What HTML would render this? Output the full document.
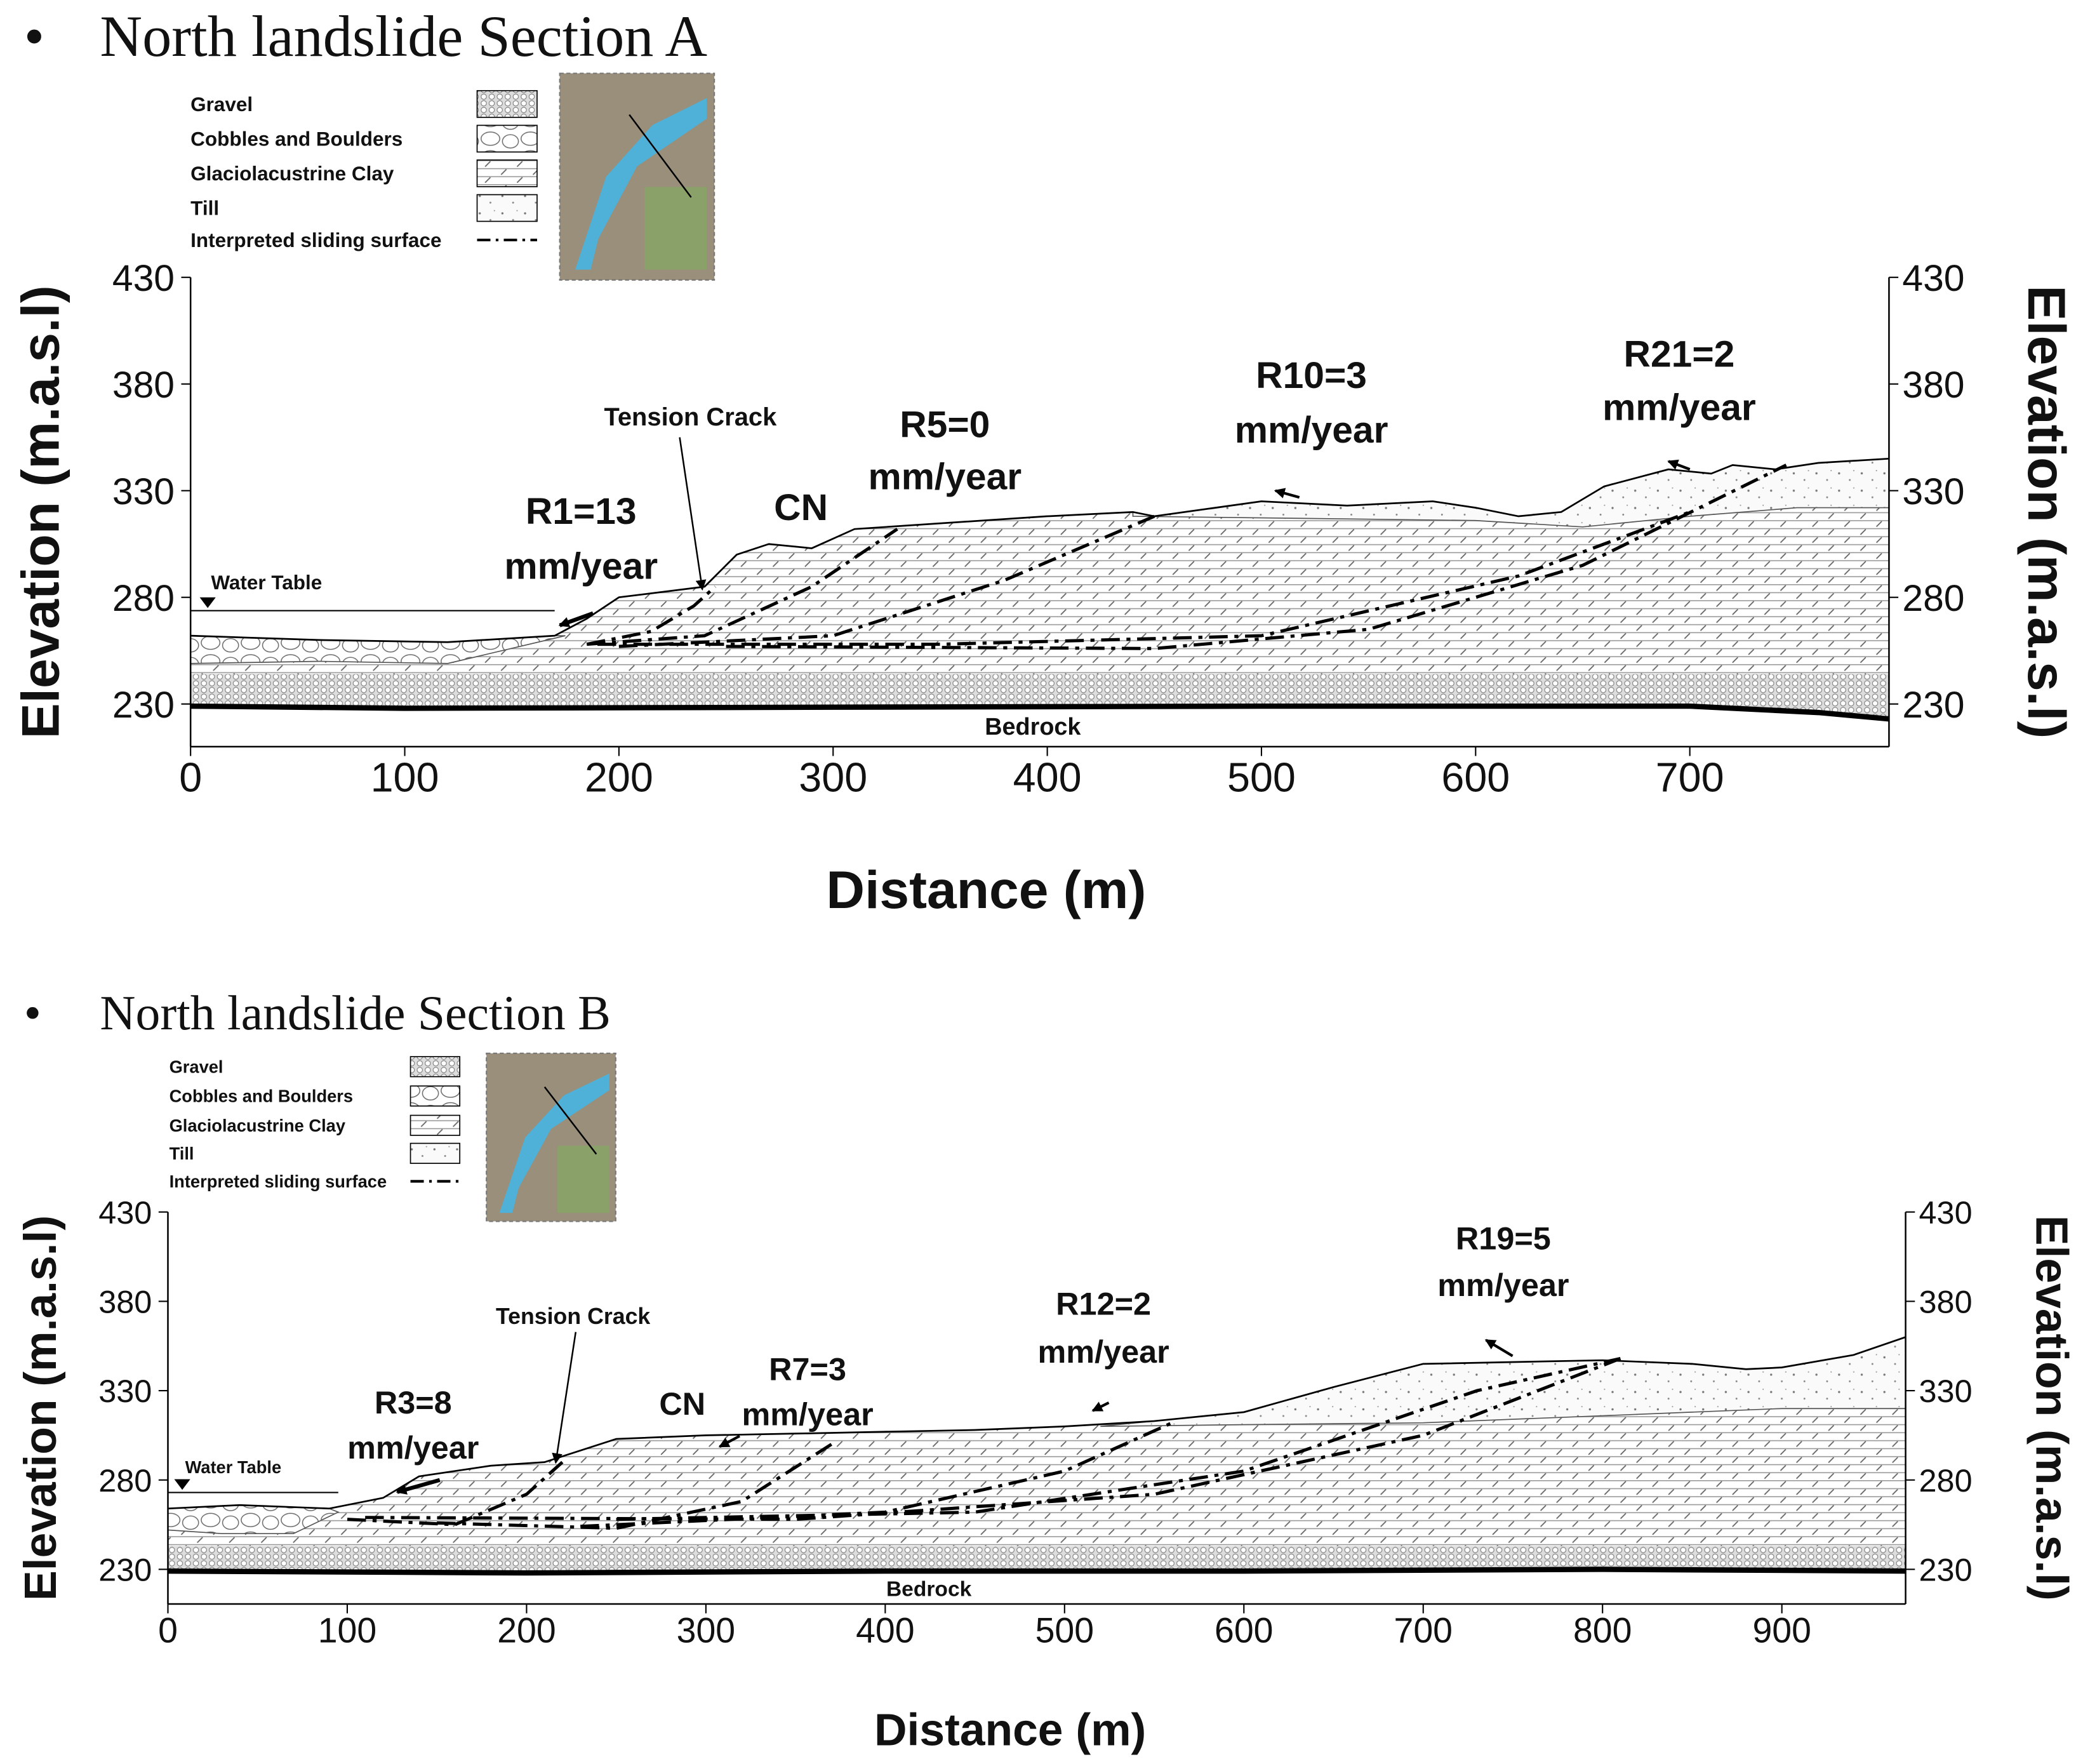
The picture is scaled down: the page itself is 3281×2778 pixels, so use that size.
<!DOCTYPE html>
<html><head><meta charset="utf-8"><style>
html,body{margin:0;padding:0;background:#fff;}
svg{display:block;}
text{font-family:"Liberation Sans",sans-serif;fill:#111;}
.ser{font-family:"Liberation Serif",serif;}
.b{font-weight:bold;}
</style></head><body>
<svg id="chart" width="3281" height="2778" viewBox="0 0 1563 1323" preserveAspectRatio="none" xmlns="http://www.w3.org/2000/svg">
<defs>
<marker id="ah" markerWidth="8" markerHeight="8" refX="7" refY="4" orient="auto" markerUnits="userSpaceOnUse"><path d="M0,0 L8,4 L0,8 z" fill="#000"/></marker>
<pattern id="clay" patternUnits="userSpaceOnUse" width="24" height="12">
<rect width="24" height="12" fill="#fff"/>
<line x1="0" y1="0.5" x2="24" y2="0.5" stroke="#999" stroke-width="0.8"/>
<line x1="0" y1="6.5" x2="24" y2="6.5" stroke="#999" stroke-width="0.8"/>
<line x1="4" y1="5" x2="8" y2="1" stroke="#666" stroke-width="0.9"/>
<line x1="16" y1="11" x2="20" y2="7" stroke="#666" stroke-width="0.9"/>
</pattern>
<pattern id="gravel" patternUnits="userSpaceOnUse" width="6" height="5">
<rect width="6" height="5" fill="#ddd"/>
<circle cx="3" cy="2.5" r="2" fill="#fff" stroke="#777" stroke-width="0.5"/>
</pattern>
<pattern id="till" patternUnits="userSpaceOnUse" width="17" height="13">
<rect width="17" height="13" fill="#fafafa"/>
<circle cx="3" cy="4" r="0.8" fill="#777"/><circle cx="11" cy="9" r="0.7" fill="#888"/><circle cx="14" cy="2" r="0.5" fill="#999"/>
</pattern>
<pattern id="cobble" patternUnits="userSpaceOnUse" width="30" height="14">
<rect width="30" height="14" fill="#fff"/>
<ellipse cx="8" cy="6" rx="7" ry="5" fill="none" stroke="#666" stroke-width="0.7"/>
<ellipse cx="23" cy="8" rx="6" ry="5" fill="none" stroke="#666" stroke-width="0.7"/>
</pattern>
</defs>
<g id="A"></g>
<g id="B"></g>
</svg>
<script>
// ---------- data: Section A ----------
const xTicksA=[0,100,200,300,400,500,600,700];
const yTicks=[230,280,330,380,430];
const surfaceA=[[0,262],[60,260],[120,259],[170,262],[185,270],[200,280],[240,285],[255,300],[270,305],[290,303],[310,312],[400,318],[440,320],[450,318],[500,325],[540,323],[580,325],[600,322],[620,318],[640,320],[660,332],[690,340],[710,338],[720,342],[740,340],[760,343],[793,345]];
const tillBaseA=[[440,318],[520,317],[600,316],[650,313],[700,318],[750,322],[793,322]];
const cobbleBaseA=[[0,249],[60,250],[120,249],[175,262]];
const bedrockA=[[0,229],[100,228],[300,228.5],[500,229],[700,229],[760,226],[793,223]];
const slipsA=[
 [[185,258],[215,264],[235,276],[245,285]],
 [[185,258],[240,262],[290,285],[330,312]],
 [[200,257],[300,262],[380,288],[450,318]],
 [[250,257],[450,256],[550,265],[650,295],[745,342]],
 [[190,258],[350,258],[500,262],[620,290],[700,320]]
];
const waterA=[0,170,273.75];
// ---------- data: Section B ----------
const xTicksB=[0,100,200,300,400,500,600,700,800,900];
const surfaceB=[[0,264],[40,266],[90,264],[120,270],[140,282],[180,288],[210,290],[250,303],[300,305],[350,306],[400,307],[450,308],[500,310],[550,313],[600,318],[650,332],[700,345],[800,347],[850,345],[880,342],[900,343],[940,350],[969,360]];
const tillBaseB=[[520,310],[600,311],[700,312],[800,316],[900,320],[969,320]];
const cobbleBaseB=[[0,252],[30,250],[70,250],[95,262]];
const bedrockB=[[0,229],[200,228],[400,229],[600,229],[800,230],[969,229]];
const slipsB=[
 [[100,258],[160,255],[200,272],[220,290]],
 [[150,256],[250,253],[320,268],[370,300]],
 [[230,254],[400,262],[500,285],[560,312]],
 [[250,258],[450,262],[600,285],[730,330],[810,348]],
 [[110,259],[350,258],[550,272],[700,305],[810,348]]
];
const waterB=[0,95,273];

const NS="http://www.w3.org/2000/svg";
function mk(p,tag,at,name,txt){const e=document.createElementNS(NS,tag);for(const k in at)e.setAttribute(k,at[k]);


if(txt!==undefined)e.textContent=txt;p.appendChild(e);return e;}

function draw(g,cfg){
 const X=m=>cfg.x0+m*cfg.kx, Y=e=>cfg.y230-(e-230)*cfg.ky;
 const pts=a=>a.map(p=>X(p[0]).toFixed(1)+","+Y(p[1]).toFixed(1)).join(" ");
 const xmax=cfg.xmax, ybot=cfg.ybot;
 mk(g,"polygon",{points:pts([[0,cfg.clayBase],...cfg.surface.filter(p=>p[0]>=0),[xmax,cfg.clayBase]]),fill:"url(#clay)",stroke:"none"},"clay-layer");
 mk(g,"polygon",{points:pts([...cfg.surface.filter(p=>p[0]>=cfg.tillBase[0][0]),...cfg.tillBase.slice().reverse()]),fill:"url(#till)",stroke:"#555","stroke-width":0.8},"till-layer");
 const cs=cfg.surface.filter(p=>p[0]<=cfg.cobbleBase[cfg.cobbleBase.length-1][0]);
 mk(g,"polygon",{points:pts([...cs,...cfg.cobbleBase.slice().reverse()]),fill:"url(#cobble)",stroke:"#555","stroke-width":0.8},"cobbles-layer");
 mk(g,"polygon",{points:pts([[0,cfg.clayBase],[xmax,cfg.clayBase],...cfg.bedrock.slice().reverse()]),fill:"url(#gravel)",stroke:"none"},"gravel-layer");
 mk(g,"polyline",{points:pts(cfg.bedrock),fill:"none",stroke:"#000","stroke-width":4},"bedrock-line");
 mk(g,"polyline",{points:pts(cfg.surface),fill:"none",stroke:"#000","stroke-width":1.3},"ground-surface");
 mk(g,"line",{x1:X(cfg.water[0]),x2:X(cfg.water[1]),y1:Y(cfg.water[2]),y2:Y(cfg.water[2]),stroke:"#000","stroke-width":1},"water-table-line");
 mk(g,"polygon",{points:`${X(8)-6},${Y(cfg.water[2])-10} ${X(8)+6},${Y(cfg.water[2])-10} ${X(8)},${Y(cfg.water[2])-2}`,fill:"#000"},"water-table-marker");
 cfg.slips.forEach((s,i)=>mk(g,"polyline",{points:pts(s),fill:"none",stroke:"#000","stroke-width":2.4,"stroke-dasharray":"14,5,3,5"},"sliding-surface-"+(i+1)));
 const xr=X(xmax);
 mk(g,"line",{x1:X(0),x2:X(0),y1:Y(430),y2:ybot,stroke:"#000","stroke-width":1.2},"y-axis-left");
 mk(g,"line",{x1:xr,x2:xr,y1:Y(430),y2:ybot,stroke:"#000","stroke-width":1.2},"y-axis-right");
 mk(g,"line",{x1:X(0),x2:xr,y1:ybot,y2:ybot,stroke:"#000","stroke-width":1.2},"x-axis");
 yTicks.forEach(t=>{
  mk(g,"line",{x1:X(0)-7,x2:X(0),y1:Y(t),y2:Y(t),stroke:"#000"},"y-tick-left");
  mk(g,"line",{x1:xr,x2:xr+7,y1:Y(t),y2:Y(t),stroke:"#000"},"y-tick-right");
  mk(g,"text",{x:X(0)-12,y:Y(t)+cfg.tf*0.36,"text-anchor":"end","font-size":cfg.tf},"y-tick-label-left",t);
  mk(g,"text",{x:xr+10,y:Y(t)+cfg.tf*0.36,"font-size":cfg.tf},"y-tick-label-right",t);
 });
 cfg.xticks.forEach(t=>{
  mk(g,"line",{x1:X(t),x2:X(t),y1:ybot,y2:ybot+7,stroke:"#000"},"x-tick");
  mk(g,"text",{x:X(t),y:ybot+cfg.tf*1.2,"text-anchor":"middle","font-size":cfg.tf*1.1},"x-tick-label",t);
 });
 const ym=(Y(430)+ybot)/2;
 mk(g,"text",{x:cfg.ylx,y:ym,"text-anchor":"middle","font-size":cfg.tt,"class":"b",transform:`rotate(-90 ${cfg.ylx} ${ym})`},"y-axis-title-left","Elevation (m.a.s.l)");
 mk(g,"text",{x:cfg.yrx,y:ym,"text-anchor":"middle","font-size":cfg.tt,"class":"b",transform:`rotate(90 ${cfg.yrx} ${ym})`},"y-axis-title-right","Elevation (m.a.s.l)");
 mk(g,"text",{x:cfg.xtx,y:cfg.xty,"text-anchor":"middle","font-size":cfg.tt,"class":"b"},"x-axis-title","Distance (m)");
 mk(g,"text",{x:18,y:cfg.titleY,"font-size":cfg.titleF,"class":"ser"},"bullet","•");
 mk(g,"text",{x:cfg.titleX,y:cfg.titleY,"font-size":cfg.titleF,"class":"ser"},"section-title",cfg.title);
 cfg.labels.forEach(l=>mk(g,"text",{x:l[0],y:l[1],"text-anchor":"middle","font-size":l[3],"class":"b"},"annotation",l[2]));
 cfg.arrows.forEach(a=>mk(g,"line",{x1:a[0],y1:a[1],x2:a[2],y2:a[3],stroke:"#000","stroke-width":a[4],"marker-end":"url(#ah)"},"annotation-arrow"));
 const L=cfg.legend;
 const names=["Gravel","Cobbles and Boulders","Glaciolacustrine Clay","Till","Interpreted sliding surface"];
 const fills=["url(#gravel)","url(#cobble)","url(#clay)","url(#till)"];
 names.forEach((n,i)=>{
  const y=L.y[i];
  mk(g,"text",{x:L.x,y:y+L.f*0.35,"font-size":L.f,"class":"b"},"legend-label",n);
  if(i<4) mk(g,"rect",{x:L.sx,y:y-L.sh/2,width:L.sw,height:L.sh,fill:fills[i],stroke:"#000","stroke-width":0.8},"legend-swatch");
  else mk(g,"line",{x1:L.lx,x2:L.sx+L.sw,y1:y,y2:y,stroke:"#000","stroke-width":2,"stroke-dasharray":"10,4,2,4"},"legend-swatch-sliding");
 });
 const M=cfg.map;
 const mg=mk(g,"g",{},"location-map");
 mk(mg,"rect",{x:M[0],y:M[1],width:M[2],height:M[3],fill:"#9a8f7a",stroke:"#777","stroke-dasharray":"3,2"},"map-background");
 mk(mg,"rect",{x:M[0]+M[2]*0.55,y:M[1]+M[3]*0.55,width:M[2]*0.4,height:M[3]*0.4,fill:"#8aa26a"},"map-field");
 mk(mg,"polygon",{points:`${M[0]+M[2]*0.1},${M[1]+M[3]*0.95} ${M[0]+M[2]*0.3},${M[1]+M[3]*0.5} ${M[0]+M[2]*0.6},${M[1]+M[3]*0.25} ${M[0]+M[2]*0.95},${M[1]+M[3]*0.12} ${M[0]+M[2]*0.95},${M[1]+M[3]*0.22} ${M[0]+M[2]*0.5},${M[1]+M[3]*0.45} ${M[0]+M[2]*0.25},${M[1]+M[3]*0.8} ${M[0]+M[2]*0.2},${M[1]+M[3]*0.95}`,fill:"#4fb0d8"},"map-river");
 mk(mg,"line",{x1:M[0]+M[2]*0.45,y1:M[1]+M[3]*0.2,x2:M[0]+M[2]*0.85,y2:M[1]+M[3]*0.6,stroke:"#000","stroke-width":1.2},"map-section-line");
}

draw(document.getElementById("A"),{x0:143,kx:1.6071,y230:528,ky:1.6,xmax:793,ybot:560,tf:28,tt:40,
 surface:surfaceA,tillBase:tillBaseA,cobbleBase:cobbleBaseA,clayBase:244,bedrock:bedrockA,slips:slipsA,water:waterA,xticks:xTicksA,
 ylx:44,yrx:1522,xtx:740,xty:681,title:"North landslide Section A",titleX:75,titleY:42,titleF:44,
 labels:[[518,319,"Tension Crack",19],[436,393,"R1=13",28],[436,434,"mm/year",28],[601,390,"CN",28],[709,328,"R5=0",28],[709,367,"mm/year",28],[984,291,"R10=3",28],[984,332,"mm/year",28],[1260,275,"R21=2",28],[1260,315,"mm/year",28],[200,442,"Water Table",15],[775,551,"Bedrock",18]],
 arrows:[[510,328,527,442,1.2],[445,460,420,469,3],[975,373,957,368,2],[1268,352,1252,346,2]],
 legend:{x:143,y:[78,104,130,156,180],f:15,sx:358,sw:45,sh:20,lx:358},map:[420,55,116,155]});

draw(document.getElementById("B"),{x0:126,kx:1.3456,y230:1177,ky:1.34,xmax:969,ybot:1203,tf:24,tt:34,
 surface:surfaceB,tillBase:tillBaseB,cobbleBase:cobbleBaseB,clayBase:243,bedrock:bedrockB,slips:slipsB,water:waterB,xticks:xTicksB,
 ylx:42,yrx:1528,xtx:758,xty:1309,title:"North landslide Section B",titleX:75,titleY:772,titleF:37,
 labels:[[430,993,"Tension Crack",17],[310,1060,"R3=8",24],[310,1094,"mm/year",24],[512,1061,"CN",24],[606,1035,"R7=3",24],[606,1069,"mm/year",24],[828,986,"R12=2",24],[828,1022,"mm/year",24],[1128,937,"R19=5",24],[1128,972,"mm/year",24],[175,1105,"Water Table",13],[697,1197,"Bedrock",16]],
 arrows:[[432,999,417,1097,1.2],[330,1110,298,1119,3],[555,1077,540,1085,2],[832,1052,820,1058,2],[1135,1017,1115,1005,2]],
 legend:{x:127,y:[800,822,844,865,886],f:13,sx:308,sw:37,sh:15,lx:308},map:[365,790,97,126]});
</script>
</body></html>
